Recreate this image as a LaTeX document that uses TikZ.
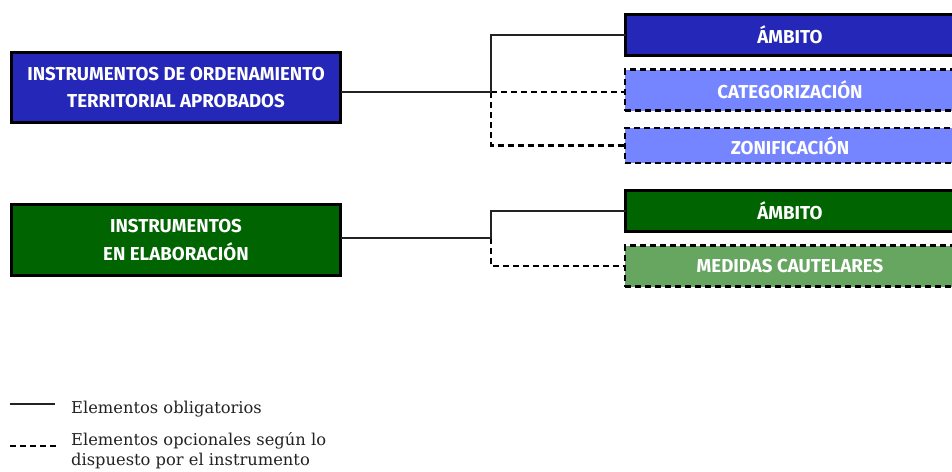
\documentclass[tikz,border=0pt]{standalone}
\usepackage{fontspec}
\setmainfont{DejaVu Serif}
\newfontfamily\boxfont{Fira Sans}
\usetikzlibrary{positioning}
\definecolor{azulOsc}{HTML}{2427B8}
\definecolor{azulCla}{HTML}{7585FF}
\definecolor{verdeOsc}{HTML}{006400}
\definecolor{verdeCla}{HTML}{66A660}
\definecolor{linea}{HTML}{222222}
\begin{document}
\begin{tikzpicture}[x=1pt,y=-1pt,
  caja/.style={draw=black,line width=3pt,inner sep=0pt,outer sep=0pt,
    text=white,align=center,font=\boxfont\bfseries\fontsize{18.7}{27.5}\selectfont},
  cajaopc/.style={caja,line width=2.5pt,dash pattern=on 6pt off 4pt},
  oblig/.style={draw=linea,line width=2.4pt},
  opcional/.style={draw=black,line width=2.5pt,dash pattern=on 6pt off 4pt},
  leyenda/.style={inner sep=0pt,align=left,text=linea,font=\fontsize{16.3}{19.5}\selectfont}]
 \useasboundingbox (0,0) rectangle (952,471);
 \clip (0,0) rectangle (952,471);
 % cajas de la izquierda
 \node[caja,fill=azulOsc,minimum width=329pt,minimum height=70pt] (instAprob) at (176,87.5)
   {INSTRUMENTOS DE ORDENAMIENTO\\TERRITORIAL APROBADOS};
 \node[caja,fill=verdeOsc,minimum width=329pt,minimum height=71pt] (instElab) at (176,240)
   {INSTRUMENTOS\\EN ELABORACIÓN};
 % cajas de la derecha
 \node[caja,fill=azulOsc,minimum width=329pt,minimum height=41pt] (ambitoA) at (790,35) {ÁMBITO};
 \node[cajaopc,fill=azulCla,minimum width=330pt,minimum height=41pt] (categ) at (790,90) {CATEGORIZACIÓN};
 \node[cajaopc,fill=azulCla,minimum width=330pt,minimum height=35pt] (zonif) at (790,145.5) {ZONIFICACIÓN};
 \node[caja,fill=verdeOsc,minimum width=329pt,minimum height=41pt] (ambitoE) at (790,211) {ÁMBITO};
 \node[cajaopc,fill=verdeCla,minimum width=330pt,minimum height=41pt] (medidas) at (790,266) {MEDIDAS CAUTELARES};
 % conectores
 \coordinate (jA) at (491,92);
 \coordinate (jE) at (491,238);
 \draw[opcional] (jA) -- (jA -| categ.west);
 \draw[opcional] (jA) |- (zonif.west);
 \draw[opcional] (jE) |- (medidas.west);
 \draw[oblig] (instAprob.east |- jA) -- (jA) |- (ambitoA.west);
 \draw[oblig] (instElab.east |- jE) -- (jE) |- (ambitoE.west);
 % leyenda
 \coordinate (legA1) at (10,404);
 \coordinate (legA2) at (55,404);
 \coordinate (legB1) at (10,446);
 \coordinate (legB2) at (57,446);
 \draw[oblig,line width=2.8pt] (legA1) -- (legA2);
 \draw[opcional] (legB1) -- (legB2);
 \node[leyenda,anchor=base west] (txtOblig) at (71,413) {Elementos obligatorios};
 \node[leyenda,anchor=base west] (txtOpc) at (71,465)
   {Elementos opcionales según lo\\dispuesto por el instrumento};
\end{tikzpicture}
\end{document}
